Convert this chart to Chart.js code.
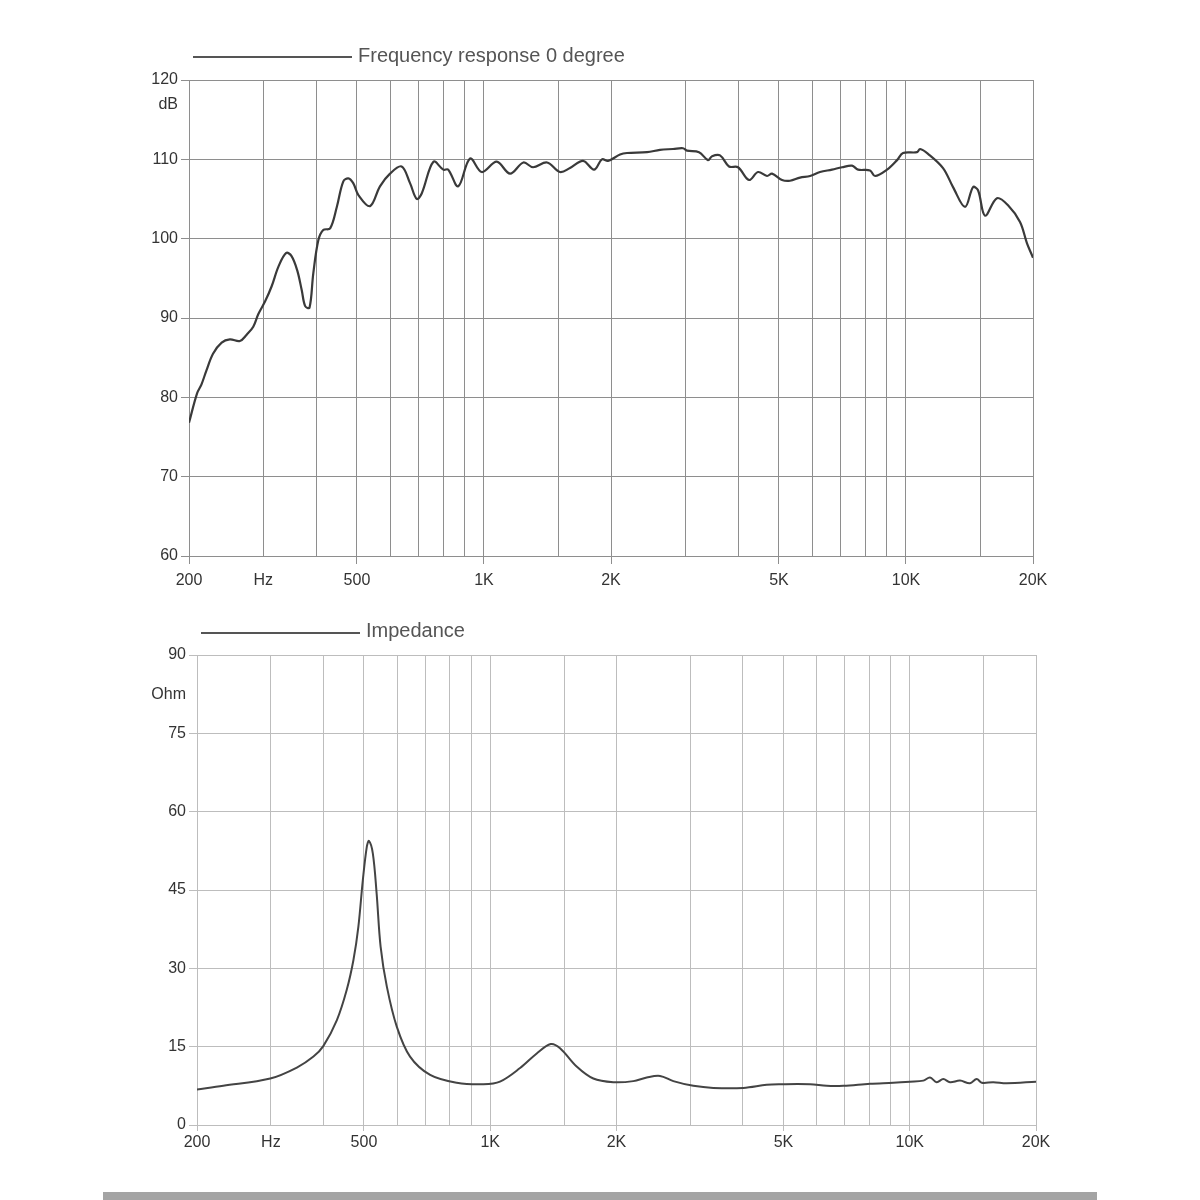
<!DOCTYPE html>
<html><head><meta charset="utf-8">
<script src="https://cdn.jsdelivr.net/npm/chart.js@4.4.1/dist/chart.umd.min.js"></script>
<style>
html,body{margin:0;padding:0;background:#fff;width:1200px;height:1200px;overflow:hidden;}
.wrap{position:absolute;left:0;width:1200px;height:600px;}
#bar{position:absolute;left:103px;top:1192px;width:994px;height:8px;background:#a4a4a4;}
</style></head><body>
<div class="wrap" style="top:0"><canvas id="c1" width="1200" height="600"></canvas></div>
<div class="wrap" style="top:600px"><canvas id="c2" width="1200" height="600"></canvas></div>
<div id="bar"></div>
<script>
// ---- data ----
const gridFreqs = [200,300,400,500,600,700,800,900,1000,1500,2000,3000,4000,5000,6000,7000,8000,9000,10000,15000,20000];
const xTickValues = [200,300,500,1000,2000,5000,10000,20000];
const xTickLabels = ['200','Hz','500','1K','2K','5K','10K','20K'];

const splTicks = [60,70,80,90,100,110,120];
const splUnit = 'dB';
const impTicks = [0,15,30,45,60,75,90];
const impUnit = 'Ohm';

const splLabel = 'Frequency response 0 degree';
const splFreq = [200,209,214,220,228,239,250,264,274,284,292,303,314,326,340,350,361,370,377,386,394,405,416,432,448,464,477,490,504,537,567,599,638,668,693,712,759,801,823,869,927,988,1072,1153,1240,1307,1411,1514,1599,1717,1823,1904,1968,2101,2182,2435,2613,2806,2963,3028,3233,3396,3471,3626,3808,4000,4247,4461,4686,4816,5085,5312,5610,5925,6257,6679,7055,7451,7699,8220,8448,9020,9525,9841,10623,10798,11280,12242,12928,13804,14420,14818,15396,16430,17452,18632,19356,19891,20000];
const splDb = [76.8,80.5,81.6,83.4,85.5,86.9,87.3,87.1,87.9,88.9,90.5,92.1,94.0,96.5,98.2,97.8,96.0,93.5,91.5,91.3,95.6,99.8,101.1,101.3,104.0,107.2,107.6,107.0,105.5,104.1,106.6,108.2,109.1,107.0,105.0,105.7,109.7,108.7,108.7,106.6,110.1,108.4,109.7,108.2,109.6,109.0,109.6,108.4,108.9,109.8,108.7,110.0,109.8,110.6,110.8,110.9,111.2,111.3,111.4,111.1,110.9,109.9,110.4,110.5,109.1,109.0,107.4,108.4,107.9,108.2,107.4,107.3,107.7,107.9,108.4,108.7,109.0,109.2,108.7,108.6,107.9,108.7,109.9,110.8,110.9,111.3,110.7,108.9,106.5,104.0,106.5,106.1,102.9,105.1,104.2,102.1,99.4,97.9,97.6];

const impLabel = 'Impedance';
const impFreq = [200,231,299,346,379,400,431,455,472,485,497,508,514,525,536,548,567,599,644,719,832,963,1055,1178,1291,1394,1467,1607,1761,1965,2193,2361,2540,2732,3049,3403,4012,4562,4907,5786,6341,6946,8042,9138,10014,10774,11177,11596,12023,12474,13178,13920,14442,14848,15824,17030,20000];
const impOhm = [6.8,7.5,8.9,11.0,13.1,15.1,20.1,25.9,31.6,38.0,46.9,53.3,54.4,52.0,44.4,34.1,26.5,18.8,13.1,9.6,8.1,7.8,8.3,10.9,13.7,15.5,14.7,11.2,8.9,8.2,8.4,9.1,9.4,8.4,7.5,7.1,7.1,7.7,7.8,7.8,7.5,7.5,7.9,8.1,8.3,8.5,9.1,8.2,8.8,8.2,8.5,8.0,8.8,8.1,8.2,8.0,8.3];

// ---- helpers ----
const FONT = '"Liberation Sans", Arial, Helvetica, sans-serif';
const lineLegend = {
  id: 'lineLegend',
  afterDraw(chart, args, o) {
    const {ctx, chartArea} = chart;
    const y = chartArea.top - o.offset;
    ctx.save();
    ctx.strokeStyle = o.lineColor; ctx.lineWidth = 2;
    ctx.beginPath(); ctx.moveTo(chartArea.left + 4, y); ctx.lineTo(chartArea.left + 163, y); ctx.stroke();
    ctx.fillStyle = o.textColor;
    ctx.font = '20px ' + FONT;
    ctx.textBaseline = 'alphabetic';
    ctx.fillText(chart.data.datasets[0].label, chartArea.left + 169, y + o.baseShift);
    ctx.restore();
  }
};

function makeChart(id, cfg) {
  const points = cfg.freq.map((f, i) => ({x: f, y: cfg.vals[i]}));
  const unitPos = cfg.unitPos;
  return new Chart(document.getElementById(id), {
    type: 'line',
    data: { datasets: [{ label: cfg.label, data: points, borderColor: cfg.lineColor, borderWidth: cfg.lineWidth,
      pointRadius: 0, tension: 0.35, fill: false }] },
    plugins: [lineLegend],
    options: {
      responsive: false, animation: false, devicePixelRatio: 1,
      layout: { padding: cfg.padding },
      plugins: { legend: {display: false}, tooltip: {enabled: false},
        lineLegend: { offset: cfg.legendOffset, baseShift: cfg.baseShift, lineColor: '#555', textColor: '#555' } },
      scales: {
        x: {
          type: 'logarithmic', min: 200, max: 20000,
          afterBuildTicks: s => { s.ticks = gridFreqs.map(v => ({value: v})); },
          ticks: { autoSkip: false, maxRotation: 0, minRotation: 0, padding: cfg.xPad,
            color: '#333', font: {family: FONT, size: 16},
            callback: v => { const i = xTickValues.indexOf(v); return i >= 0 ? xTickLabels[i] : ''; } },
          grid: { color: cfg.gridColor, lineWidth: 1, tickLength: cfg.xTickLen,
            tickColor: c => { const i = xTickValues.indexOf(c.tick.value); return (i >= 0 && xTickLabels[i] !== 'Hz') ? cfg.gridColor : 'rgba(0,0,0,0)'; } },
          border: { display: true, color: cfg.gridColor },
          afterFit: s => { s.height = 40; s.paddingLeft = 0; s.paddingRight = 0; }
        },
        y: {
          type: 'linear', min: cfg.yTicks[0], max: cfg.yTicks[cfg.yTicks.length - 1],
          afterBuildTicks: s => { s.ticks = cfg.yTicks.map(v => ({value: v})).concat([{value: unitPos}]); },
          ticks: { autoSkip: false, padding: 3, color: '#333', font: {family: FONT, size: 16},
            callback: v => v === unitPos ? cfg.unit : String(v) },
          grid: { color: c => c.tick && c.tick.value === unitPos ? 'rgba(0,0,0,0)' : cfg.gridColor,
            tickColor: c => c.tick && c.tick.value === unitPos ? 'rgba(0,0,0,0)' : cfg.gridColor,
            lineWidth: 1, tickLength: 8 },
          border: { display: true, color: cfg.gridColor },
          afterFit: s => { s.width = 60; s.paddingTop = 0; s.paddingBottom = 0; }
        }
      }
    }
  });
}

makeChart('c1', { freq: splFreq, vals: splDb, label: splLabel, yTicks: splTicks, unit: splUnit, unitPos: 116.9,
  padding: {top: 80, left: 129, right: 167, bottom: 4}, legendOffset: 23, baseShift: 5,
  gridColor: '#8e8e8e', lineColor: '#3a3a3a', lineWidth: 2.2, xPad: 7, xTickLen: 8 });

makeChart('c2', { freq: impFreq, vals: impOhm, label: impLabel, yTicks: impTicks, unit: impUnit, unitPos: 82.5,
  padding: {top: 55, left: 137, right: 164, bottom: 35}, legendOffset: 22, baseShift: 4,
  gridColor: '#bdbdbd', lineColor: '#444', lineWidth: 2, xPad: 2, xTickLen: 6 });
</script>
</body></html>
